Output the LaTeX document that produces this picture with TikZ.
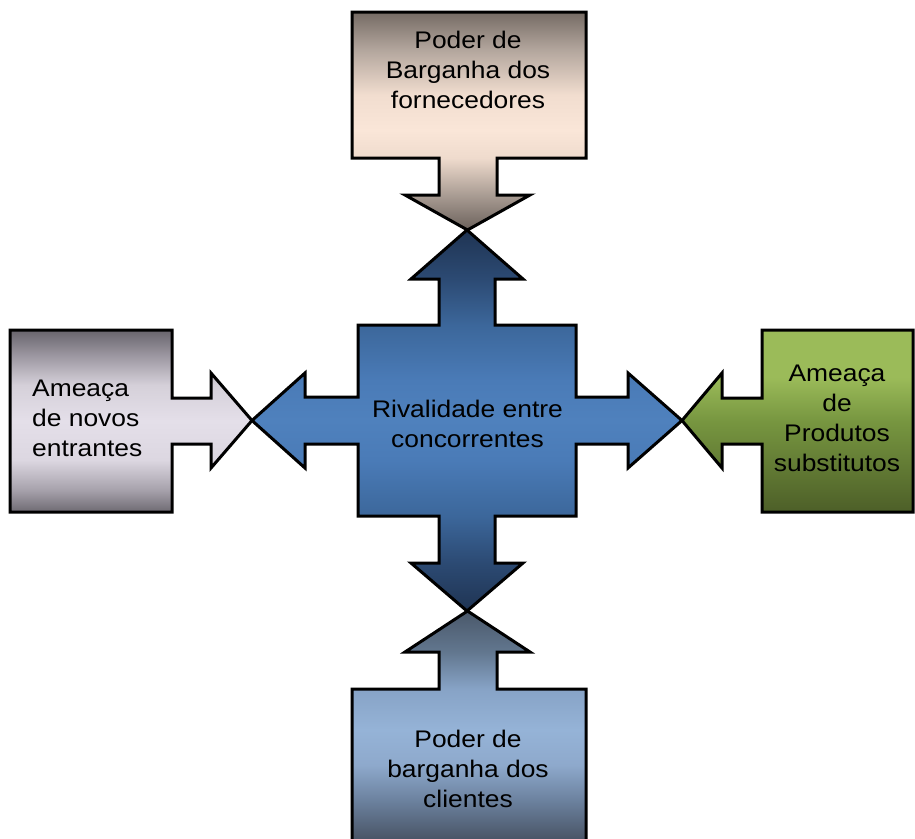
\documentclass[tikz,border=0pt]{standalone}
\usepackage{fontspec}
\setmainfont{Liberation Sans}[FakeStretch=1.1]

% palette
\definecolor{supA}{HTML}{6B615B}
\definecolor{supB}{HTML}{A99C93}
\definecolor{supC}{HTML}{EFDBCD}
\definecolor{supD}{HTML}{FAE6D8}
\definecolor{supE}{HTML}{F1DDCF}
\definecolor{supF}{HTML}{B3A69D}
\definecolor{supG}{HTML}{756B64}

\definecolor{rivA}{HTML}{1F3453}
\definecolor{rivB}{HTML}{2C4A73}
\definecolor{rivC}{HTML}{3C679B}
\definecolor{rivD}{HTML}{4A7BB7}
\definecolor{rivE}{HTML}{4F81BD}

\definecolor{entA}{HTML}{6E6A72}
\definecolor{entB}{HTML}{A6A1AB}
\definecolor{entC}{HTML}{DCD7E1}
\definecolor{entD}{HTML}{E4DFE9}
\definecolor{entE}{HTML}{D5D0D9}
\definecolor{entF}{HTML}{9B96A0}
\definecolor{entG}{HTML}{68646C}

\definecolor{subTop}{HTML}{9BBB59}
\definecolor{subMid}{HTML}{779640}
\definecolor{subBot}{HTML}{4D5F28}

\definecolor{cliA}{HTML}{434E5E}
\definecolor{cliB}{HTML}{4A5668}
\definecolor{cliC}{HTML}{6C829F}
\definecolor{cliD}{HTML}{8EA9CC}
\definecolor{cliE}{HTML}{95B3D7}
\definecolor{cliF}{HTML}{87A3C6}
\definecolor{cliG}{HTML}{62778F}
\definecolor{cliH}{HTML}{4A586A}

% vertical shadings: 25bp = bottom of the path, 75bp = top of the path
\pgfdeclareverticalshading{supshade}{100bp}{color(0bp)=(supA); color(25bp)=(supA);
  color(33bp)=(supB); color(41.5bp)=(supC); color(47.9bp)=(supD); color(56bp)=(supE);
  color(66.3bp)=(supF); color(75bp)=(supG); color(100bp)=(supG)}
\pgfdeclareverticalshading{rivshade}{100bp}{color(0bp)=(rivA); color(25bp)=(rivA);
  color(31.3bp)=(rivB); color(37.5bp)=(rivC); color(44.8bp)=(rivD); color(50bp)=(rivE);
  color(55.2bp)=(rivD); color(62.5bp)=(rivC); color(68.6bp)=(rivB); color(75bp)=(rivA);
  color(100bp)=(rivA)}
\pgfdeclareverticalshading{entshade}{100bp}{color(0bp)=(entA); color(25bp)=(entA);
  color(31bp)=(entB); color(39.3bp)=(entC); color(50bp)=(entD); color(59.9bp)=(entE);
  color(68.1bp)=(entF); color(75bp)=(entG); color(100bp)=(entG)}
\pgfdeclareverticalshading{subshade}{100bp}{color(0bp)=(subBot); color(25bp)=(subBot);
  color(50bp)=(subMid); color(62bp)=(subTop); color(75bp)=(subTop); color(100bp)=(subTop)}
\pgfdeclareverticalshading{clishade}{100bp}{color(0bp)=(cliA); color(25bp)=(cliA);
  color(27.5bp)=(cliB); color(35.5bp)=(cliC); color(42.8bp)=(cliD); color(50.1bp)=(cliE);
  color(58.7bp)=(cliF); color(66.4bp)=(cliG); color(75bp)=(cliH); color(100bp)=(cliH)}

\tikzset{
  force/.style={draw=black, line width=3pt, line join=miter},
  label/.style={inner sep=0pt, font=\fontsize{24}{30}\selectfont, text=black},
}

\begin{document}
\begin{tikzpicture}[x=1pt, y=-1pt]
\clip (0,0) rectangle (915,838);
\fill[white] (0,0) rectangle (915,838);

% suppliers (top)
\shadedraw[force, shading=supshade]
  (352,12) -- (586,12) -- (586,158) -- (497,158) -- (497,195) -- (530,195)
  -- (467.5,230) -- (405,195) -- (439,195) -- (439,158) -- (352,158) -- cycle;

% new entrants (left)
\shadedraw[force, shading=entshade]
  (10,330) -- (172,330) -- (172,398) -- (211,398) -- (211,373) -- (252,420.5)
  -- (211,468) -- (211,444) -- (172,444) -- (172,512) -- (10,512) -- cycle;

% substitutes (right)
\shadedraw[force, shading=subshade]
  (913,330) -- (762,330) -- (762,398) -- (722,398) -- (722,373) -- (682,420.5)
  -- (722,468) -- (722,444) -- (762,444) -- (762,512) -- (913,512) -- cycle;

% customers (bottom)
\shadedraw[force, shading=clishade]
  (467.5,611) -- (530,652) -- (497,652) -- (497,689) -- (586,689) -- (586,850)
  -- (352,850) -- (352,689) -- (439,689) -- (439,652) -- (405,652) -- cycle;

% rivalry (central cross of four arrows)
\shadedraw[force, shading=rivshade]
  (467,230) -- (523,279) -- (495,279) -- (495,325) -- (576,325) -- (576,397)
  -- (628,397) -- (628,373) -- (682,420.5) -- (628,468) -- (628,444) -- (576,444)
  -- (576,516) -- (495,516) -- (495,563) -- (523,563) -- (467,611) -- (411,563)
  -- (439,563) -- (439,516) -- (358,516) -- (358,444) -- (305,444) -- (305,468)
  -- (252,420.5) -- (305,373) -- (305,397) -- (358,397) -- (358,325) -- (439,325)
  -- (439,279) -- (411,279) -- cycle;

% labels
\node[label, align=center] (fornecedores) at (468,70) {Poder de\\Barganha dos\\fornecedores};
\node[label, align=center] (rivalidade) at (467.5,423.5) {Rivalidade entre\\concorrentes};
\node[label, align=left, anchor=west] (entrantes) at (32,418) {Ameaça\\de novos\\entrantes};
\node[label, align=center] (substitutos) at (837,418) {Ameaça\\de\\Produtos\\substitutos};
\node[label, align=center] (clientes) at (468,769) {Poder de\\barganha dos\\clientes};
\end{tikzpicture}
\end{document}
